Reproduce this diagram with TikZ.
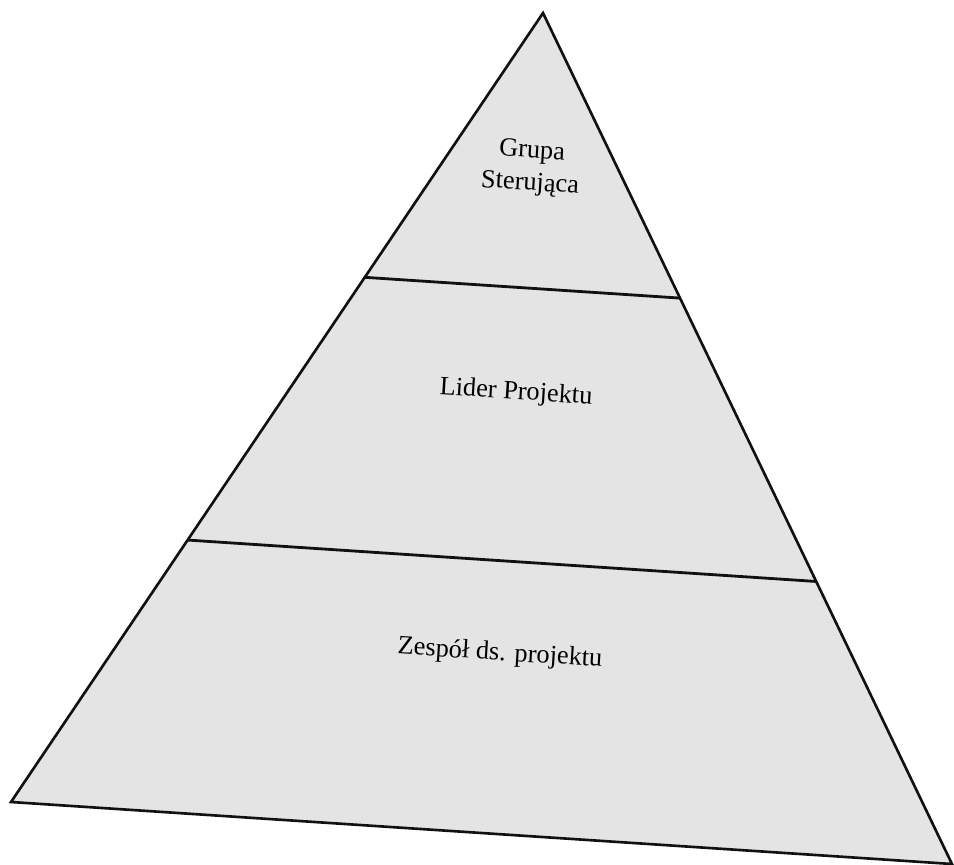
\documentclass[tikz,border=0pt]{standalone}
\usepackage{fontspec}
\setmainfont{Liberation Serif}
\usepackage{xcolor}
\definecolor{cLine}{HTML}{111111}
\definecolor{cFill}{HTML}{E4E4E4}
\usepackage{tikz}
\usetikzlibrary{calc}
\tikzset{
  pyr-edge/.style={draw=cLine,line width=1.5pt,line join=miter},
  pyr-fill/.style={fill=cFill},
  pyr-div/.style={draw=cLine,line width=1.6pt},
  pyr-label/.style={align=center,font=\fontsize{15}{18.5}\selectfont,rotate=-3.6,inner sep=1pt},
}
\begin{document}
\begin{tikzpicture}[x=0.02cm,y=-0.02cm]
  \useasboundingbox (0,0) rectangle (954,865);
  % corners of the pyramid
  \coordinate (apex) at (543,13);
  \coordinate (base-l) at (11,802);
  \coordinate (base-r) at (952,864);
  \path[pyr-fill] (apex) -- (base-r) -- (base-l) -- cycle;
  % level dividers
  \coordinate (div1-l) at ($(apex)!0.335!(base-l)$);
  \coordinate (div1-r) at ($(apex)!0.335!(base-r)$);
  \coordinate (div2-l) at ($(apex)!0.668!(base-l)$);
  \coordinate (div2-r) at ($(apex)!0.668!(base-r)$);
  \draw[pyr-div] (div1-l) -- (div1-r);
  \draw[pyr-div] (div2-l) -- (div2-r);
  \draw[pyr-edge] (apex) -- (base-r) -- (base-l) -- cycle;
  % labels
  \node[pyr-label] (grp) at (531,168) {Grupa\\Sterująca};
  \node[pyr-label] (lid) at (516,393) {Lider Projektu};
  \node[pyr-label] (zes) at (500,654) {Zespół ds. projektu};
\end{tikzpicture}
\end{document}
